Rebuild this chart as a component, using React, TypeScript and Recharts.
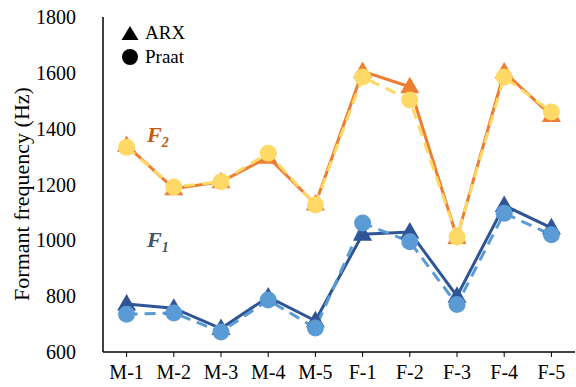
import React from 'react';
import { LineChart, Line, XAxis, YAxis } from 'recharts';

const speakers = ['M-1', 'M-2', 'M-3', 'M-4', 'M-5', 'F-1', 'F-2', 'F-3', 'F-4', 'F-5'];
const f2Arx = [1340, 1185, 1210, 1298, 1130, 1605, 1550, 1010, 1603, 1447];
const f2Praat = [1333, 1191, 1210, 1312, 1127, 1585, 1503, 1012, 1585, 1460];
const f1Arx = [772, 757, 684, 797, 712, 1022, 1030, 800, 1125, 1045];
const f1Praat = [735, 740, 672, 786, 686, 1062, 995, 770, 1097, 1020];
const yTicks = [600, 800, 1000, 1200, 1400, 1600, 1800];

const data = speakers.map((s, i) => ({
  name: s,
  f2Arx: f2Arx[i],
  f2Praat: f2Praat[i],
  f1Arx: f1Arx[i],
  f1Praat: f1Praat[i],
}));

const FONT = 'Liberation Serif';

const triangleDot = (color: string) => (props: any) => {
  const { cx, cy, index } = props;
  if (cx == null || cy == null) return <g key={index} />;
  return (
    <polygon
      key={index}
      points={`${cx},${cy - 10} ${cx - 9.5},${cy + 6.5} ${cx + 9.5},${cy + 6.5}`}
      fill={color}
    />
  );
};

const XTick = (props: any) => {
  const { x, y, payload } = props;
  return (
    <text x={x} y={y + 20} textAnchor="middle" fontFamily={FONT} fontSize={20} fill="#000">
      {payload.value}
    </text>
  );
};

const YTick = (props: any) => {
  const { x, y, payload } = props;
  return (
    <text x={x - 19} y={y + 7} textAnchor="end" fontFamily={FONT} fontSize={20} fill="#000">
      {payload.value}
    </text>
  );
};

const YLabel = () => (
  <text
    x={29}
    y={194}
    transform="rotate(-90 29 194)"
    textAnchor="middle"
    fontFamily={FONT}
    fontSize={22}
    fill="#000"
  >
    Formant frequency (Hz)
  </text>
);

export default function App() {
  return (
    <div style={{ position: 'absolute', left: 0, top: 0, width: 576, height: 387, background: '#fff' }}>
      <LineChart width={576} height={387} data={data} margin={{ top: 17, right: 1, bottom: 0, left: 0 }}>
        <XAxis xAxisId="top" orientation="top" dataKey="name" height={0} tick={false} tickLine={false} axisLine={{ stroke: '#333', strokeWidth: 1 }} />
        <YAxis yAxisId="right" orientation="right" width={0} domain={[600, 1800]} tick={false} tickLine={false} axisLine={{ stroke: '#333', strokeWidth: 1 }} />
        <XAxis
          dataKey="name"
          height={35}
          padding={{ left: 23.6, right: 23.6 }}
          axisLine={{ stroke: '#000', strokeWidth: 1.5 }}
          tickLine={{ stroke: '#000' }}
          tickSize={5}
          tick={<XTick />}
          interval={0}
        />
        <YAxis
          width={103}
          domain={[600, 1800]}
          ticks={yTicks}
          axisLine={{ stroke: '#000', strokeWidth: 1.5 }}
          tickLine={false}
          tick={<YTick />}
          label={<YLabel />}
        />
        <Line dataKey="f2Arx" stroke="#ED7D31" strokeWidth={3} dot={triangleDot('#ED7D31')} isAnimationActive={false} />
        <Line dataKey="f2Praat" stroke="#FFD966" strokeWidth={3} strokeDasharray="11 7" dot={{ r: 8.5, fill: '#FFD966', stroke: 'none' }} isAnimationActive={false} />
        <Line dataKey="f1Arx" stroke="#2F5597" strokeWidth={3} dot={triangleDot('#2F5597')} isAnimationActive={false} />
        <Line dataKey="f1Praat" stroke="#5B9BD5" strokeWidth={3} strokeDasharray="11 7" dot={{ r: 8.5, fill: '#5B9BD5', stroke: 'none' }} isAnimationActive={false} />
      </LineChart>

      <div style={{ position: 'absolute', left: 120, top: 21, fontFamily: FONT, fontSize: 19, lineHeight: '24px', color: '#000' }}>
        <div style={{ display: 'flex', alignItems: 'center' }}>
          <svg width={20} height={18} style={{ marginRight: 5 }}>
            <polygon points="10,2 1.5,16 18.5,16" fill="#000" />
          </svg>
          ARX
        </div>
        <div style={{ display: 'flex', alignItems: 'center' }}>
          <svg width={20} height={18} style={{ marginRight: 5 }}>
            <circle cx={10} cy={9} r={8} fill="#000" />
          </svg>
          Praat
        </div>
      </div>

      <div style={{ position: 'absolute', left: 147, top: 122, fontFamily: FONT, fontSize: 22, fontWeight: 'bold', fontStyle: 'italic', color: '#C55A11' }}>
        F<sub style={{ fontSize: 14 }}>2</sub>
      </div>
      <div style={{ position: 'absolute', left: 147, top: 227, fontFamily: FONT, fontSize: 22, fontWeight: 'bold', fontStyle: 'italic', color: '#44546A' }}>
        F<sub style={{ fontSize: 14 }}>1</sub>
      </div>
    </div>
  );
}
